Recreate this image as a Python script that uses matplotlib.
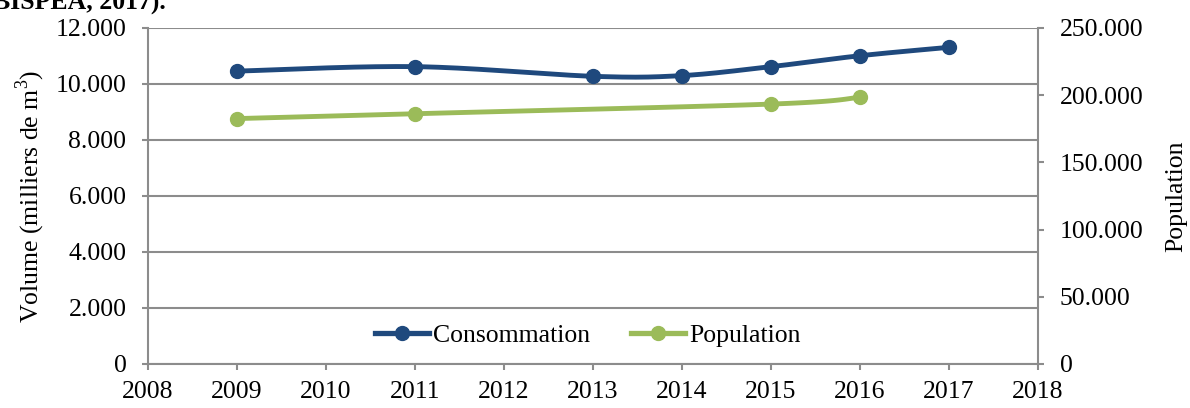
import numpy as np
import matplotlib
matplotlib.use("Agg")
import matplotlib.pyplot as plt
from matplotlib.ticker import FuncFormatter, MultipleLocator
from matplotlib.lines import Line2D

years_cons = [2009, 2011, 2013, 2014, 2015, 2016, 2017]
consommation = [10460, 10620, 10275, 10300, 10620, 11010, 11310]
years_pop = [2009, 2011, 2015, 2016]
population = [182600, 186200, 193400, 198400]

plt.rcParams['font.family'] = ['Liberation Serif', 'DejaVu Serif']
plt.rcParams['mathtext.fontset'] = 'custom'
plt.rcParams['mathtext.rm'] = 'Liberation Serif'

def smooth(x, y, n=40):
    # Excel-like smoothed line (Catmull-Rom Bezier) through the given points
    x = np.asarray(x, float); y = np.asarray(y, float)
    P = np.column_stack([x, y])
    out = [P[0]]
    for i in range(len(P) - 1):
        p0 = P[i - 1] if i > 0 else P[i]
        p1 = P[i]; p2 = P[i + 1]
        p3 = P[i + 2] if i + 2 < len(P) else P[i + 1]
        c1 = p1 + (p2 - p0) / 6.0
        c2 = p2 - (p3 - p1) / 6.0
        t = np.linspace(0, 1, n)[1:, None]
        seg = ((1 - t) ** 3) * p1 + 3 * ((1 - t) ** 2) * t * c1 + 3 * (1 - t) * t ** 2 * c2 + t ** 3 * p2
        out.extend(seg)
    out = np.array(out)
    return out[:, 0], out[:, 1]

fmt = FuncFormatter(lambda v, p: f"{int(round(v)):,}".replace(",", "."))

blue = "#1F497D"
green = "#9BBB59"
gray = "#8C8C8C"
FS = 18.5

fig = plt.figure(figsize=(11.9, 4.08), dpi=100)
ax = fig.add_axes([148 / 1190, 44 / 408, 890 / 1190, 336 / 408])
ax2 = ax.twinx()

ax.set_xlim(2008, 2018)
ax.set_ylim(0, 12000)
ax2.set_ylim(0, 250000)

ax.yaxis.set_major_locator(MultipleLocator(2000))
ax.xaxis.set_major_locator(MultipleLocator(1))
ax2.yaxis.set_major_locator(MultipleLocator(50000))
ax.yaxis.set_major_formatter(fmt)
ax2.yaxis.set_major_formatter(fmt)
ax.xaxis.set_major_formatter(FuncFormatter(lambda v, p: f"{int(round(v))}"))

ax.grid(axis='y', color=gray, lw=1.5)
ax.set_axisbelow(True)

for a in (ax, ax2):
    a.spines['top'].set_visible(False)
    for s in ('left', 'right', 'bottom'):
        a.spines[s].set_color(gray)
        a.spines[s].set_linewidth(1.5)
    a.tick_params(colors=gray, labelcolor='black', labelsize=FS, width=1.5, length=4.5, direction='out')
ax.spines['right'].set_visible(False)
ax2.spines['left'].set_visible(False)
ax2.spines['bottom'].set_visible(False)
ax.tick_params(axis='y', pad=11)
ax2.tick_params(axis='y', pad=11)
ax.tick_params(axis='x', pad=8)

xs, ys = smooth(years_cons, consommation)
ax.plot(xs, ys, color=blue, lw=3.5, solid_capstyle='round', zorder=3)
ax.plot(years_cons, consommation, 'o', color=blue, ms=10, zorder=4)

xp, yp = smooth(years_pop, population)
ax2.plot(xp, yp, color=green, lw=3.5, solid_capstyle='round', zorder=3)
ax2.plot(years_pop, population, 'o', color=green, ms=10, zorder=4)

ax.set_ylabel("Volume (milliers de m$^3$)", fontsize=FS, labelpad=6)
ax2.set_ylabel("Population", fontsize=FS, labelpad=16)

handles = [Line2D([], [], color=blue, lw=3.8, marker='o', ms=10),
           Line2D([], [], color=green, lw=3.8, marker='o', ms=10)]
leg = ax.legend(handles, ["Consommation", "Population"], loc='center', bbox_to_anchor=(0.494, 0.086),
                ncol=2, frameon=False, fontsize=FS, handlelength=2.1, handletextpad=0.15,
                columnspacing=1.6, borderpad=0, borderaxespad=0)

fig.text(-0.006, 1 - 10 / 408, "BISPEA, 2017).", fontsize=FS, fontweight='bold', va='baseline', ha='left')

fig.savefig("out.png", dpi=100)
